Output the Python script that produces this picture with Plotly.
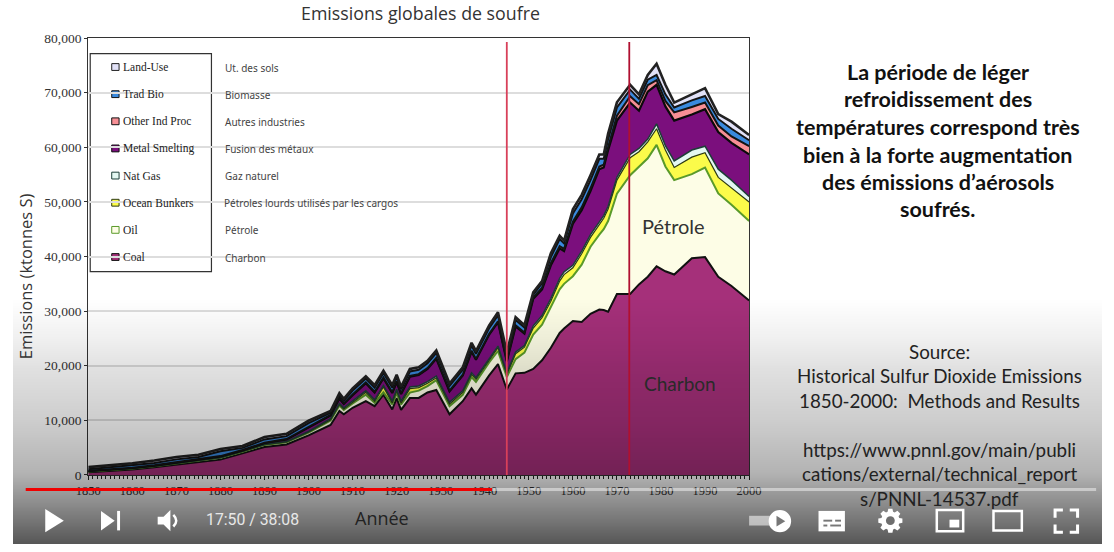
import base64
import struct
import zlib

import numpy as np
import plotly.graph_objects as go

W = 1114
H = 552

# values: top of each stacked band, ktonnes S
years = [1850, 1855, 1860, 1865, 1870, 1875, 1880, 1885, 1890, 1895, 1900, 1905, 1907, 1908, 1910, 1913, 1915, 1917, 1919, 1920,
         1921, 1923, 1925, 1927, 1929, 1932, 1935, 1937, 1938, 1941, 1943, 1945, 1947, 1949, 1951, 1953, 1955, 1957, 1958, 1960,
         1962, 1964, 1966, 1967, 1968, 1970, 1973, 1975, 1977, 1979, 1981, 1983, 1987, 1990, 1993, 1996, 2000]
coal_top = [500, 750, 1000, 1400, 1900, 2350, 2800, 3950, 5100, 5580, 7250, 9150, 11700, 11100, 12300, 13500, 12600, 14700, 12000, 14080,
            11900, 14080, 14100, 15100, 15560, 11100, 13500, 15860, 14700, 18240, 20300, 15650, 18600, 18700, 19400, 21000, 23300, 26000, 26800, 28200,
            28000, 29500, 30300, 30200, 29900, 33150, 33150, 34900, 36300, 38200, 37300, 36700, 39700, 39900, 36300, 34600, 31950]
oil_top = [650, 900, 1200, 1600, 2100, 2600, 3150, 4250, 5500, 6000, 7750, 9950, 12700, 11900, 13100, 14700, 13200, 15100, 12900, 15000,
           12900, 15090, 15440, 16280, 17350, 12600, 14670, 17940, 17050, 20600, 22700, 17940, 21200, 22400, 25700, 27500, 30700, 34000, 35000, 36400,
           38500, 41800, 44000, 45000, 46500, 51500, 54900, 56500, 58000, 60450, 56500, 54000, 55100, 56300, 51550, 49500, 46500]
bunkers_top = [650, 900, 1200, 1600, 2100, 2600, 3150, 4300, 5550, 6050, 7850, 10100, 12900, 12100, 13350, 15150, 13500, 16100, 13200, 15400,
               13200, 15800, 16000, 16800, 17800, 13000, 15100, 18400, 17500, 21100, 23300, 18400, 22200, 23400, 26900, 28800, 31800, 35500, 36700, 37950,
               40500, 43500, 45800, 47000, 48700, 54000, 58100, 59200, 61000, 63400, 59500, 56300, 58200, 59000, 54500, 52500, 50000]
gas_top = [680, 930, 1230, 1640, 2150, 2650, 3200, 4350, 5600, 6120, 7950, 10300, 13100, 12300, 13550, 15400, 13750, 16400, 13500, 15700,
           13500, 16100, 16300, 17100, 18100, 13300, 15400, 18700, 17800, 21400, 23600, 18700, 22500, 23700, 27300, 29200, 32300, 36000, 37200, 38400,
           41000, 44000, 46400, 47500, 49200, 54500, 58700, 59800, 61500, 64300, 60300, 57500, 59500, 60200, 56000, 54000, 51000]
metal_top = [720, 980, 1300, 1720, 2250, 2800, 3400, 4500, 5850, 6500, 8750, 10900, 14000, 13000, 14600, 16800, 15100, 17700, 15000, 17000,
             14800, 18000, 18300, 19400, 21300, 15300, 18200, 22600, 21100, 25700, 28000, 20800, 27200, 25900, 32250, 34000, 38400, 41500, 41000, 46000,
             48500, 52000, 56000, 56300, 59500, 64900, 68200, 66700, 70200, 71450, 67500, 64900, 66000, 67000, 62800, 60800, 58700]
other_top = [750, 1010, 1330, 1760, 2300, 2850, 3450, 4560, 5900, 6560, 8850, 11000, 14100, 13100, 14750, 16950, 15250, 17850, 15150, 17150,
             14950, 18150, 18450, 19550, 21450, 15450, 18350, 22750, 21250, 25850, 28150, 20950, 27400, 26100, 32500, 34300, 38800, 41900, 41400, 46400,
             49000, 52500, 56500, 56800, 60000, 65800, 69370, 67900, 71400, 72300, 68500, 66400, 67400, 68200, 64000, 62000, 60200]
trad_top = [1050, 1400, 1750, 2200, 2850, 3300, 4350, 4950, 6500, 7100, 9500, 11400, 14600, 13600, 15450, 17650, 16000, 18650, 16000, 17900,
            15700, 18950, 19250, 20450, 22350, 16300, 19250, 23700, 22200, 26900, 29250, 21950, 28400, 27000, 33000, 35100, 39900, 43200, 42400, 47900,
            50500, 54000, 57900, 57900, 61500, 67300, 70560, 68900, 72400, 73250, 69700, 67300, 68600, 69400, 65200, 63400, 61300]
land_top = [1430, 1780, 2140, 2650, 3270, 3680, 4750, 5290, 6950, 7540, 9920, 11700, 14970, 13950, 15860, 18060, 16450, 19100, 16450, 18350,
            16150, 19400, 19700, 20900, 22800, 16750, 19700, 24200, 22700, 27400, 29800, 22400, 28900, 27440, 33450, 35500, 40600, 43800, 42900, 48650,
            51300, 54900, 58700, 58700, 62500, 68250, 71450, 69700, 73250, 75300, 71450, 68200, 69800, 70850, 66100, 64700, 62250]

band_tops = [coal_top, oil_top, bunkers_top, gas_top, metal_top, other_top, trad_top, land_top]
band_names = ["Coal", "Oil", "Ocean Bunkers", "Nat Gas", "Metal Smelting", "Other Ind Proc", "Trad Bio", "Land-Use"]
band_fr = ["Charbon", "Pétrole", "Pétroles lourds utilisés par les cargos", "Gaz naturel", "Fusion des métaux", "Autres industries", "Biomasse", "Ut. des sols"]
band_fill = ["#a5307a", "#fdfde6", "#fbfb4a", "#e4f8f2", "#7b0f7d", "#f78f95", "#3a8ade", "#e2e2f8"]
band_line = ["#111111", "#5a9a2a", "#2c3a10", "#1d3f38", "#0a0a0a", "#141414", "#141414", "#222222"]
band_width = [2, 2, 1.2, 1.5, 2.2, 2, 2, 2.6]

marker_years = [1945, 1972.8]
marker_colors = ["#d8405a", "#b01030"]

right_lines = ["La période de léger", "refroidissement des", "températures correspond très", "bien à la forte augmentation",
               "des émissions d’aérosols", "soufrés."]
right_y = [67, 95, 123, 152, 180, 208]
source_lines = ["Source:", "Historical Sulfur Dioxide Emissions", "1850-2000:  Methods and Results", "",
                "https://www.pnnl.gov/main/publi", "cations/external/technical_report", "s/PNNL-14537.pdf"]
source_y = [354, 379, 404, 430, 455, 480, 505]

# video player fade, picture row -> grey level
fade_y = [300, 340, 370, 425, 440, 480, 510, 530, 552]
fade_grey = [255, 240, 225, 205, 198, 178, 140, 115, 85]


def px(x):
    return x / W


def py(y):
    return 1 - y / H


def label(x, y, text, size, color="#222222", font="Lato", anchor="center", **kw):
    return dict(x=px(x), y=py(y), xref="paper", yref="paper", text=text, showarrow=False,
                xanchor=anchor, yanchor="middle", font=dict(family=font, size=size, color=color), **kw)


def path_shape(d, fill="white", line=None, width=0):
    return dict(type="path", xref="paper", yref="paper", path=d, fillcolor=fill,
                line=dict(color=line or "rgba(0,0,0,0)", width=width), layer="above")


def poly(pts):
    return "M" + " L".join(f"{px(x):.5f},{py(y):.5f}" for x, y in pts) + " Z"


def box(x0, y0, x1, y1, fill="rgba(0,0,0,0)", line="white", width=2.5):
    return dict(type="rect", xref="paper", yref="paper", x0=px(x0), x1=px(x1), y0=py(y0), y1=py(y1),
                fillcolor=fill, line=dict(color=line, width=width), layer="above")


def fade_png():
    # 2 px wide black strip, alpha follows the grey levels, stretched over the frame later
    rows = b""
    for y in range(fade_y[0], H):
        a = int(round(255 - np.interp(y + 0.5, fade_y, fade_grey)))
        rows += b"\x00" + bytes([0, 0, 0, a]) * 2

    def chunk(tag, data):
        return struct.pack(">I", len(data)) + tag + data + struct.pack(">I", zlib.crc32(tag + data))

    ihdr = struct.pack(">IIBBBBB", 2, H - fade_y[0], 8, 6, 0, 0, 0)
    png = b"\x89PNG\r\n\x1a\n" + chunk(b"IHDR", ihdr) + chunk(b"IDAT", zlib.compress(rows)) + chunk(b"IEND", b"")
    return "data:image/png;base64," + base64.b64encode(png).decode()


fig = go.Figure()
for i, name in enumerate(band_names):
    fig.add_trace(go.Scatter(x=years, y=band_tops[i], name=name, mode="lines",
                             fill="tozeroy" if i == 0 else "tonexty", fillcolor=band_fill[i],
                             line=dict(color=band_line[i], width=band_width[i]), showlegend=False))

shapes = []
annotations = []

# excel style legend
shapes.append(dict(type="rect", xref="paper", yref="paper", x0=px(79), x1=px(203), y0=py(272), y1=py(48),
                   fillcolor="white", line=dict(color="#333333", width=1.2), layer="between"))
# white backs behind the french labels, grid shows again after them
for row_y, right in [(88, 283), (144, 366), (200, 436), (256, 283)]:
    shapes.append(dict(type="rect", xref="paper", yref="paper", x0=px(207), x1=px(right), y0=py(row_y + 4), y1=py(row_y - 4),
                       fillcolor="white", line=dict(width=0), layer="between"))
for i, name in enumerate(band_names):
    row_y = 257 - i * 27.9
    shapes.append(dict(type="rect", xref="paper", yref="paper", x0=px(101), x1=px(108.5), y0=py(row_y + 3.5), y1=py(row_y - 3.5),
                       fillcolor=band_fill[i], line=dict(color=band_line[i], width=1), layer="between"))
    annotations.append(label(110.5, row_y, name, 11.5, color="#222222", font="Liberation Serif", anchor="left"))
    annotations.append(label(215 if i != 2 else 214, row_y + 0.5, band_fr[i], 10, color="#444444", font="Noto Sans", anchor="left"))

for yr, col in zip(marker_years, marker_colors):
    shapes.append(dict(type="line", xref="x", yref="y", x0=yr, x1=yr, y0=0, y1=79300, line=dict(color=col, width=1.8), layer="above"))

# progress bar
shapes.append(dict(type="line", xref="paper", yref="paper", x0=px(490), x1=px(1108), y0=py(496), y1=py(496),
                   line=dict(color="rgba(255,255,255,0.45)", width=3), layer="above"))
shapes.append(dict(type="line", xref="paper", yref="paper", x0=px(13), x1=px(490), y0=py(496), y1=py(496),
                   line=dict(color="#f00000", width=3), layer="above"))

# player buttons
shapes.append(path_shape(poly([(33, 516), (52, 528), (33, 540)])))
shapes.append(path_shape(poly([(90, 518), (104, 528), (90, 538)])))
shapes.append(box(106.5, 518, 109.5, 538, fill="white", line="white", width=0))
shapes.append(path_shape(poly([(148, 524), (154, 524), (161, 517), (161, 539), (154, 532), (148, 532)])))
shapes.append(dict(type="path", xref="paper", yref="paper", layer="above", fillcolor="rgba(0,0,0,0)", line=dict(color="white", width=2.5),
                   path=f"M{px(164)},{py(522)} Q{px(170)},{py(528)} {px(164)},{py(534)}"))
shapes.append(box(753, 523, 780, 533, fill="rgba(255,255,255,0.55)", line="rgba(0,0,0,0)", width=0))
shapes.append(dict(type="circle", xref="paper", yref="paper", x0=px(773), x1=px(796), y0=py(540), y1=py(517),
                   fillcolor="white", line=dict(width=0), layer="above"))
shapes.append(path_shape(poly([(781, 523), (790, 528.5), (781, 534)]), fill="#777777"))
shapes.append(box(824, 518, 851, 539, fill="white", line="white", width=0))
for x0, x1, y0 in [(829, 838, 527), (841, 847, 527), (829, 833, 532), (836, 847, 532)]:
    shapes.append(box(x0, y0, x1, y0 + 2, fill="#777777", line="#777777", width=0))
# gear: eight teeth and a hole
gear = []
for k in range(8):
    a = k * np.pi / 4
    for off, r in [(-0.30, 9.5), (-0.17, 12.5), (0.17, 12.5), (0.30, 9.5)]:
        gear.append((897.5 + r * np.cos(a + off), 528 + r * np.sin(a + off)))
shapes.append(path_shape(poly(gear)))
shapes.append(dict(type="circle", xref="paper", yref="paper", x0=px(893), x1=px(902), y0=py(532.5), y1=py(523.5),
                   fillcolor="#6e6e6e", line=dict(width=0), layer="above"))
shapes.append(box(945, 517, 972, 539))
shapes.append(box(958, 527, 968, 535, fill="white", line="white", width=0))
shapes.append(box(1003, 518, 1032, 538))
for pts in [[(1066, 525), (1066, 517), (1074, 517)], [(1081, 517), (1089, 517), (1089, 525)],
            [(1089, 532), (1089, 540), (1081, 540)], [(1074, 540), (1066, 540), (1066, 532)]]:
    shapes.append(dict(type="path", xref="paper", yref="paper", layer="above", fillcolor="rgba(0,0,0,0)", line=dict(color="white", width=3),
                       path="M" + " L".join(f"{px(x):.5f},{py(y):.5f}" for x, y in pts)))

annotations.append(label(417, 6, "Emissions globales de soufre", 17.8, color="#333333", font="Open Sans"))
annotations.append(label(13, 277, "Emissions (ktonnes S)", 16.5, color="#333333", textangle=-90, font="Open Sans"))
annotations.append(label(377, 525, "Année", 18, color="#222222", font="Open Sans"))
annotations.append(label(676, 225, "Pétrole", 20, color="#333333"))
annotations.append(label(682, 387, "Charbon", 19, color="#2a2a2a"))
for text, y in zip(right_lines, right_y):
    annotations.append(label(946, y, f"<b>{text}</b>", 21.5, color="#111111"))
for text, y in zip(source_lines, source_y):
    if text:
        annotations.append(label(948, y, text, 18.8, color="#222222"))
annotations.append(label(245, 527, "17:50 / 38:08", 15.8, color="#e8e8e8", font="Roboto"))

fig.update_layout(
    width=W, height=H, margin=dict(l=0, r=0, t=0, b=0),
    paper_bgcolor="white", plot_bgcolor="white", showlegend=False,
    shapes=shapes, annotations=annotations,
    images=[dict(source=fade_png(), xref="paper", yref="paper", x=0, y=py(fade_y[0]), sizex=1, sizey=(H - fade_y[0]) / H,
                 xanchor="left", yanchor="top", sizing="stretch", layer="above")],
    xaxis=dict(domain=[px(77), px(753)], range=[1850, 2000], dtick=10, tick0=1850, ticks="outside", ticklen=4, tickcolor="#222222",
               showgrid=False, zeroline=False, showline=True, linecolor="#333333", linewidth=1.2, mirror=True,
               tickfont=dict(family="Liberation Serif", size=12.5, color="#333333"),
               minor=dict(dtick=1, tick0=1850, ticks="outside", ticklen=3, tickcolor="#222222")),
    yaxis=dict(domain=[py(481), py(32)], range=[0, 80000], dtick=10000, ticks="outside", ticklen=3, tickcolor="#333333",
               tickformat=",", showgrid=True, gridcolor="#dddddd", gridwidth=1.5, zeroline=False, showline=True,
               linecolor="#333333", linewidth=1.2, mirror=True,
               tickfont=dict(family="Liberation Serif", size=13.5, color="#333333")),
)

fig.write_html("out.html", post_script="document.body.style.margin='0';", config=dict(displayModeBar=False))
